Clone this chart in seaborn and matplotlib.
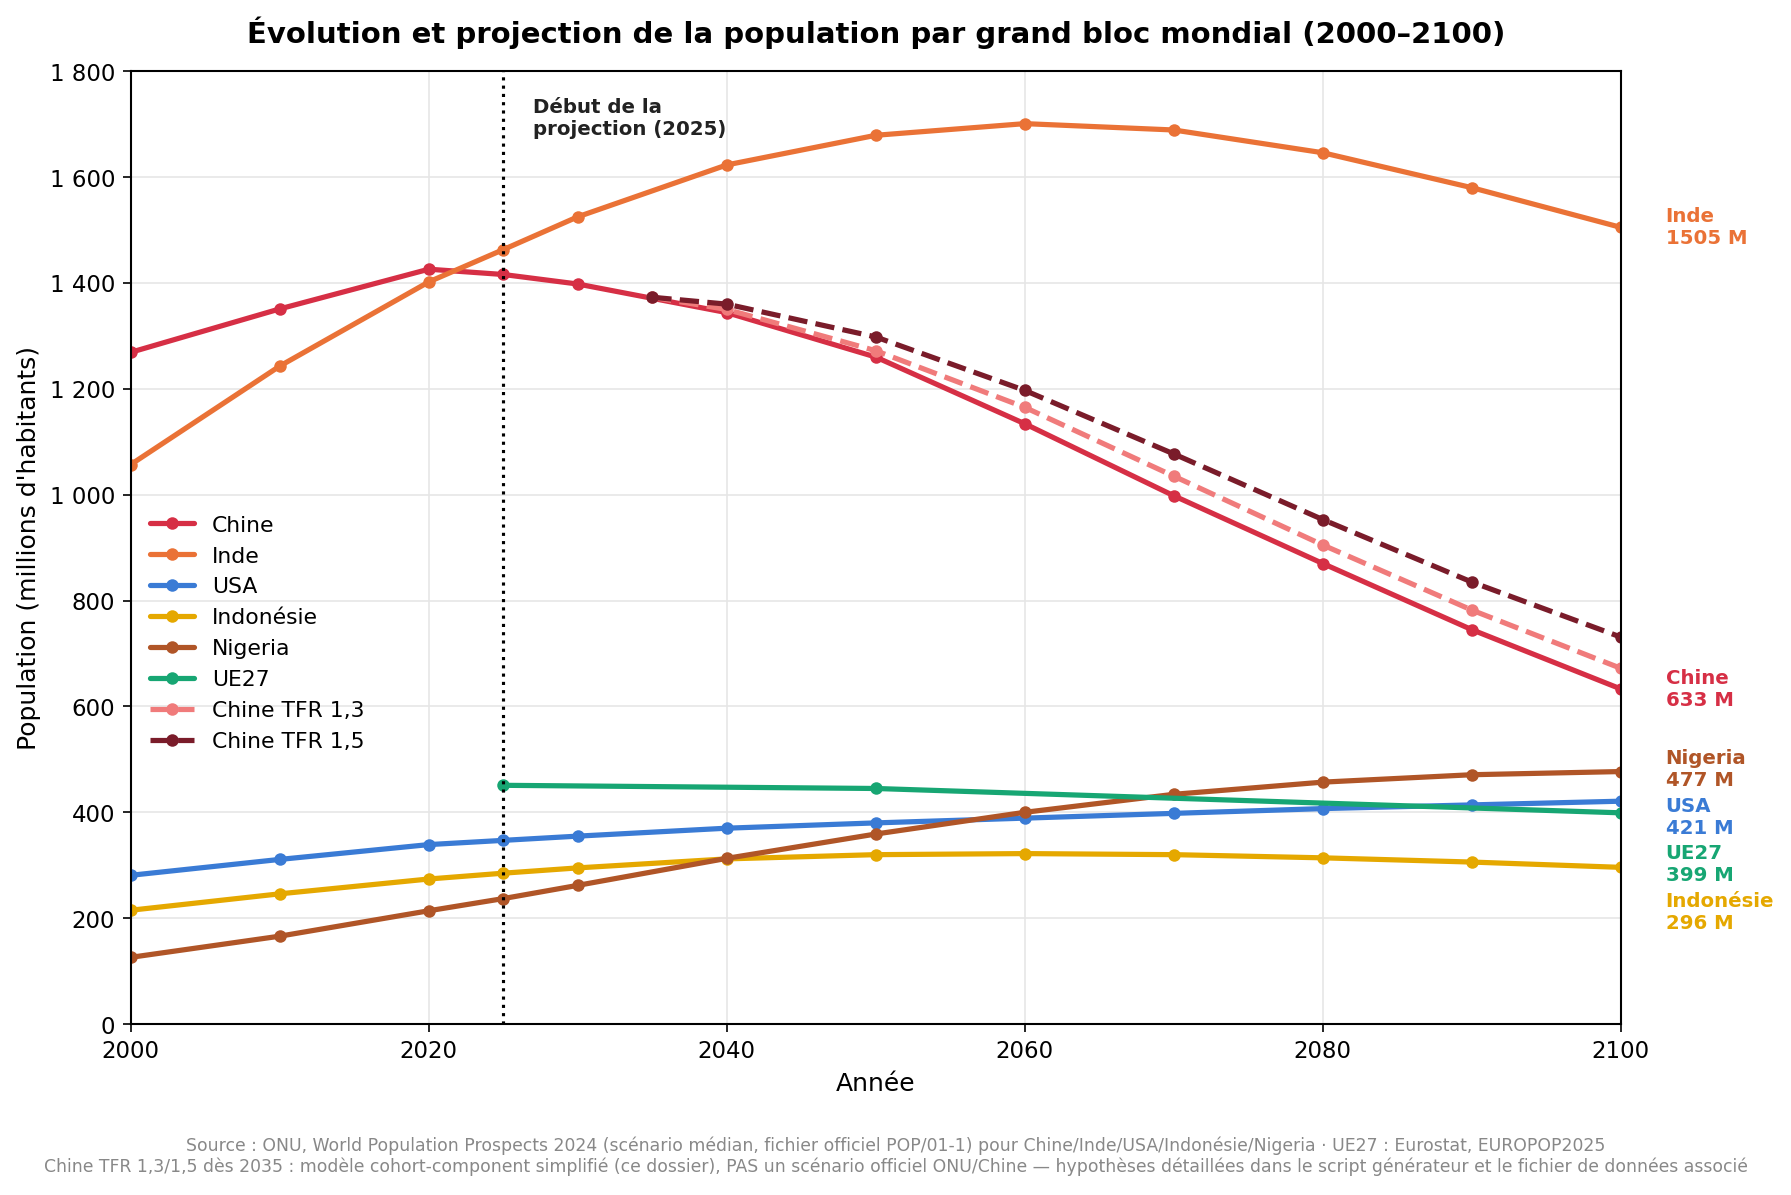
import matplotlib
matplotlib.use("Agg")
import matplotlib.pyplot as plt
import seaborn as sns
import pandas as pd

years = [2000, 2010, 2020, 2025, 2030, 2040, 2050, 2060, 2070, 2080, 2090, 2100]
chine = [1269, 1351, 1426, 1416, 1398, 1344, 1260, 1134, 998, 870, 745, 633]
inde = [1057, 1243, 1402, 1463, 1525, 1623, 1679, 1701, 1689, 1646, 1580, 1505]
usa = [281, 311, 339, 347, 355, 370, 380, 389, 398, 407, 414, 421]
indonesie = [215, 246, 274, 285, 295, 312, 320, 322, 320, 314, 306, 296]
nigeria = [126, 166, 214, 237, 262, 313, 359, 400, 434, 457, 471, 477]
ue_years = [2025, 2050, 2100]
ue27 = [451, 445, 399]
tfr_years = [2035, 2040, 2050, 2060, 2070, 2080, 2090, 2100]
tfr13 = [1373, 1350, 1272, 1165, 1035, 905, 782, 672]
tfr15 = [1373, 1360, 1298, 1197, 1077, 953, 835, 731]

sns.set_style("white")
plt.rcParams['font.family'] = ['DejaVu Sans']
plt.rcParams['text.color'] = 'black'
plt.rcParams['xtick.color'] = 'black'
plt.rcParams['ytick.color'] = 'black'
plt.rcParams['axes.labelcolor'] = 'black'

fig, ax = plt.subplots(figsize=(11.94, 7.97), dpi=150)
series = [
    ("Chine", years, chine, "#d62f45", "-"),
    ("Inde", years, inde, "#ea7236", "-"),
    ("USA", years, usa, "#3a7bd5", "-"),
    ("Indonésie", years, indonesie, "#e5a800", "-"),
    ("Nigeria", years, nigeria, "#b05527", "-"),
    ("UE27", ue_years, ue27, "#17a673", "-"),
    ("Chine TFR 1,3", tfr_years, tfr13, "#f07b7b", "--"),
    ("Chine TFR 1,5", tfr_years, tfr15, "#7a1c2a", "--"),
]
for name, x, y, c, ls in series:
    df = pd.DataFrame({"x": x, "y": y})
    sns.lineplot(data=df, x="x", y="y", ax=ax, color=c, linestyle=ls, lw=2.5,
                 marker="o", markersize=6, markeredgewidth=0, label=name)

ax.axvline(2025, color="black", ls=":", lw=1.5)
ax.text(2027, 1750, "Début de la\nprojection (2025)", fontsize=9.5, fontweight="bold",
        va="top", color="#222222")

labels = [("Inde", inde[-1], "#ea7236", 1505), ("Chine", chine[-1], "#d62f45", 633),
          ("Nigeria", nigeria[-1], "#b05527", 482), ("USA", usa[-1], "#3a7bd5", 392),
          ("UE27", ue27[-1], "#17a673", 302), ("Indonésie", indonesie[-1], "#e5a800", 212)]
for n, v, c, ypos in labels:
    ax.text(2103, ypos, f"{n}\n{v} M", color=c, fontsize=9.5, fontweight="bold",
            va="center", ha="left", clip_on=False)

ax.set_xlim(2000, 2100)
ax.set_ylim(0, 1800)
ax.set_xticks(range(2000, 2101, 20))
ax.set_yticks(range(0, 1801, 200))
ax.set_yticklabels([f"{v:,}".replace(",", " ") for v in range(0, 1801, 200)])
ax.tick_params(labelsize=11, length=4, left=True, bottom=True)
ax.grid(True, color="#e6e6e6", lw=0.8)
for s in ax.spines.values():
    s.set_color("black"); s.set_linewidth(1)
ax.set_xlabel("Année", fontsize=12)
ax.set_ylabel("Population (millions d'habitants)", fontsize=12)
ax.set_title("Évolution et projection de la population par grand bloc mondial (2000–2100)",
             fontsize=14, fontweight="bold", pad=14)
ax.legend(loc="center left", bbox_to_anchor=(0.0, 0.41), frameon=False, fontsize=10.5)

fig.text(0.5, 0.033, "Source : ONU, World Population Prospects 2024 (scénario médian, fichier officiel POP/01-1) pour Chine/Inde/USA/Indonésie/Nigeria · UE27 : Eurostat, EUROPOP2025\n"
         "Chine TFR 1,3/1,5 dès 2035 : modèle cohort-component simplifié (ce dossier), PAS un scénario officiel ONU/Chine — hypothèses détaillées dans le script générateur et le fichier de données associé",
         ha="center", va="center", fontsize=8.3, color="#888888")
fig.subplots_adjust(left=0.073, right=0.905, top=0.94, bottom=0.143)
fig.savefig("out.png", dpi=150)
